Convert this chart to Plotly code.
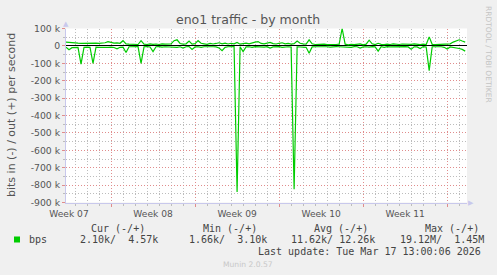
import pandas as pd
import plotly.graph_objects as go

W, H = 497, 275

# ---- data (k bits per second), one sample every 6 hours ----
start_time = "2026-02-12 06:00"
step = "6h"

out_k = [
    22, 20, 16, 15, 16, 15, 16, 15, 17, 15,
    16, 15, 15, 18, 24, 20, 16, 17, 15, 30,
    12, 10, 9, 11, 8, 30, 10, 8, 12, 9,
    11, 8, 12, 10, 9, 12, 30, 35, 14, 10,
    12, 28, 10, 13, 30, 15, 12, 9, 14, 11,
    14, 18, 12, 16, 11, 15, 12, 20, 10, 14,
    16, 12, 18, 22, 25, 14, 12, 16, 20, 13,
    11, 15, 18, 12, 14, 10, 13, 28, 15, 12,
    10, 35, 12, 8, 10, 8, 10, 7, 9, 8,
    8, 10, 100, 10, 6, 9, 7, 8, 12, 6,
    10, 33, 12, 8, 15, 9, 7, 10, 8, 12,
    9, 8, 11, 10, 7, 9, 12, 8, 7, 10,
    8, 52, 9, 7, 8, 9, 10, 8, 12, 22,
    30, 35, 28, 22,
]

in_k = [
    -8, -22, -10, -7, -8, -105, -8, -7, -8, -100,
    -7, -8, -9, -7, -8, -7, -9, -17, -8, -7,
    -38, -5, -4, -6, -4, -100, -5, -4, -6, -33,
    -5, -4, -7, -5, -6, -4, -5, -8, -5, -12,
    -5, -4, -20, -6, -5, -8, -5, -4, -6, -5,
    -6, -12, -27, -8, -5, -6, -4, -840, -5, -33,
    -6, -5, -8, -4, -6, -5, -7, -4, -12, -6,
    -5, -4, -8, -6, -5, -7, -824, -5, -6, -4,
    -8, -42, -6, -5, -4, -6, -4, -5, -7, -4,
    -4, -5, -6, -4, -5, -8, -4, -5, -12, -6,
    -5, -7, -4, -6, -30, -5, -8, -4, -6, -5,
    -4, -7, -5, -4, -6, -19, -5, -6, -15, -4,
    -6, -142, -5, -4, -6, -5, -8, -18, -6, -8,
    -12, -15, -20, -30,
]

y_ticks = [100000, 0, -100000, -200000, -300000, -400000, -500000,
           -600000, -700000, -800000, -900000]
y_labels = ["100 k", "0", "-100 k", "-200 k", "-300 k", "-400 k", "-500 k",
            "-600 k", "-700 k", "-800 k", "-900 k"]

legend_headers = ["Cur (-/+)", "Min (-/+)", "Avg (-/+)", "Max (-/+)"]
legend_values = ["2.10k/  4.57k", "1.66k/  3.10k", "11.62k/ 12.26k", "19.12M/  1.45M"]
series_name = "bps"
last_update = "Last update: Tue Mar 17 13:00:06 2026"
title = "eno1 traffic - by month"
y_title = "bits in (-) / out (+) per second"

GREEN = "#00CC00"
times = pd.date_range(start_time, periods=len(out_k), freq=step)

# plot area in pixels
PL, PR, PT, PB = 66, 467, 28.5, 202.5


def px(x):
    return x / W


def py(y):
    return 1 - y / H


fig = go.Figure()
fig.add_trace(go.Scatter(x=times, y=[v * 1000 for v in in_k], mode="lines",
                         line=dict(color=GREEN, width=1.2), showlegend=False))
fig.add_trace(go.Scatter(x=times, y=[v * 1000 for v in out_k], mode="lines",
                         line=dict(color=GREEN, width=1.2), showlegend=False))

MAJ = "#e08c8c"
MIN = "#bcbcbc"
AX = "#c8c8ec"
TXT = "#555555"
DASH = "1px,2px"

fig.update_layout(
    width=W, height=H,
    margin=dict(l=0, r=0, t=0, b=0, autoexpand=False),
    paper_bgcolor="#F0F0F0",
    plot_bgcolor="#FFFFFF",
    font=dict(family="DejaVu Sans", color=TXT, size=9.1),
    showlegend=False,
    xaxis=dict(
        domain=[px(PL), px(PR)],
        automargin=False,
        type="date",
        range=["2026-02-12 06:00", "2026-03-17 15:36"],
        tickmode="linear", tick0="2026-02-16", dtick=7 * 86400000,
        tickformat="Week %V", ticklabelmode="period",
        showgrid=True, gridcolor=MAJ, griddash=DASH, gridwidth=1,
        ticks="outside", ticklen=3, tickcolor=MAJ,
        minor=dict(tickmode="linear", tick0="2026-02-16", dtick=86400000,
                   showgrid=True, gridcolor=MIN, griddash=DASH,
                   ticks="outside", ticklen=2, tickcolor=MIN),
        showline=True, linecolor=AX, linewidth=1,
        zeroline=False, fixedrange=True,
        tickfont=dict(size=9.1, color=TXT),
    ),
    yaxis=dict(
        domain=[py(PB), py(PT)],
        automargin=False,
        range=[-900000, 100000],
        tickmode="array", tickvals=y_ticks, ticktext=y_labels,
        showgrid=True, gridcolor=MAJ, griddash=DASH, gridwidth=1,
        ticks="outside", ticklen=3, tickcolor=MAJ,
        minor=dict(tickmode="linear", tick0=0, dtick=50000,
                   showgrid=True, gridcolor=MIN, griddash=DASH,
                   ticks="outside", ticklen=2, tickcolor=MIN),
        showline=True, linecolor=AX, linewidth=1,
        zeroline=True, zerolinecolor="#000000", zerolinewidth=1,
        fixedrange=True,
        tickfont=dict(size=9.3, color=TXT),
    ),
)

ann = []
ann.append(dict(x=px(248), y=py(19), text=title, showarrow=False,
                font=dict(size=12.5, color=TXT), xanchor="center", yanchor="middle"))
ann.append(dict(x=px(11), y=py(115), text=y_title, showarrow=False, textangle=-90,
                font=dict(size=11, color=TXT), xanchor="center", yanchor="middle"))
ann.append(dict(x=px(488), y=py(54), text="RRDTOOL / TOBI OETIKER", showarrow=False,
                textangle=90, font=dict(size=7.5, color="#c4c4c4"),
                xanchor="center", yanchor="middle"))
# axis arrows
ann.append(dict(x=px(PL), y=py(24), text="▲", showarrow=False,
                font=dict(size=7, color=AX), xanchor="center", yanchor="middle"))
ann.append(dict(x=px(471), y=py(PB), text="▶", showarrow=False,
                font=dict(size=7, color=AX), xanchor="center", yanchor="middle"))

MONO = "DejaVu Sans Mono"
LG = "#444444"
header_x = [89.3, 201, 312.3, 423]
value_x = [78.3, 186.7, 289.3, 397.7]
for hx, htxt in zip(header_x, legend_headers):
    ann.append(dict(x=px(hx), y=py(228), text=htxt, showarrow=False,
                    font=dict(family=MONO, size=10, color=LG),
                    xanchor="left", yanchor="middle"))
for vx, vtxt in zip(value_x, legend_values):
    ann.append(dict(x=px(vx), y=py(239.5), text=vtxt, showarrow=False,
                    font=dict(family=MONO, size=10, color=LG),
                    xanchor="left", yanchor="middle"))
ann.append(dict(x=px(27), y=py(239.5), text=series_name, showarrow=False,
                font=dict(family=MONO, size=10, color=LG),
                xanchor="left", yanchor="middle"))
ann.append(dict(x=px(482.5), y=py(251), text=last_update, showarrow=False,
                font=dict(family=MONO, size=10, color=LG),
                xanchor="right", yanchor="middle"))
ann.append(dict(x=px(248), y=py(264), text="Munin 2.0.57", showarrow=False,
                font=dict(size=7.6, color="#c8c8c8"),
                xanchor="center", yanchor="middle"))

for a in ann:
    a["xref"] = "paper"
    a["yref"] = "paper"
fig.update_layout(annotations=ann)

fig.add_shape(type="rect", xref="paper", yref="paper",
              x0=px(14), x1=px(20), y0=py(242.5), y1=py(236.5),
              fillcolor=GREEN, line=dict(width=0))

fig.write_html("out.html")
